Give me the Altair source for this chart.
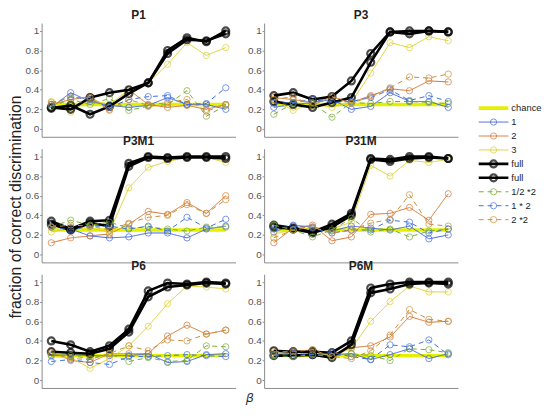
import pandas as pd
import altair as alt

# ---------- data ----------

beta_steps = list(range(1, 11))
chance_level = [0.25] * 10

series_keys = ["1", "2", "3", "full_a", "full_b", "1/2 *2", "1 * 2", "2 *2"]
thin_keys = ["1", "2", "3"]
full_keys = ["full_a", "full_b"]
dashed_keys = ["1/2 *2", "1 * 2", "2 *2"]

legend_keys = ["chance"] + series_keys
legend_labels = ["chance", "1", "2", "3", "full", "full", "1/2 *2", "1 * 2", "2 *2"]

P1 = {
    "1": [0.22, 0.37, 0.28, 0.24, 0.22, 0.24, 0.32, 0.25, 0.25, 0.20],
    "2": [0.25, 0.30, 0.33, 0.20, 0.40, 0.25, 0.22, 0.24, 0.20, 0.25],
    "3": [0.28, 0.17, 0.30, 0.25, 0.40, 0.47, 0.66, 0.88, 0.75, 0.83],
    "full_a": [0.22, 0.20, 0.32, 0.37, 0.40, 0.47, 0.80, 0.93, 0.89, 1.00],
    "full_b": [0.21, 0.24, 0.15, 0.23, 0.36, 0.47, 0.77, 0.91, 0.90, 0.97],
    "1/2 *2": [0.23, 0.30, 0.25, 0.31, 0.19, 0.23, 0.25, 0.39, 0.13, 0.24],
    "1 * 2": [0.25, 0.33, 0.30, 0.22, 0.30, 0.33, 0.34, 0.25, 0.26, 0.42],
    "2 *2": [0.27, 0.32, 0.32, 0.19, 0.30, 0.24, 0.27, 0.30, 0.18, 0.25],
}
P3 = {
    "1": [0.22, 0.25, 0.27, 0.30, 0.20, 0.23, 0.37, 0.28, 0.28, 0.22],
    "2": [0.32, 0.30, 0.27, 0.33, 0.27, 0.34, 0.41, 0.39, 0.49, 0.48],
    "3": [0.30, 0.19, 0.26, 0.22, 0.27, 0.57, 0.88, 0.83, 0.94, 0.90],
    "full_a": [0.34, 0.37, 0.30, 0.33, 0.49, 0.77, 0.99, 1.00, 1.00, 0.99],
    "full_b": [0.28, 0.25, 0.22, 0.27, 0.32, 0.68, 0.99, 0.97, 1.00, 0.99],
    "1/2 *2": [0.15, 0.26, 0.26, 0.12, 0.27, 0.26, 0.28, 0.28, 0.27, 0.26],
    "1 * 2": [0.26, 0.27, 0.30, 0.27, 0.28, 0.32, 0.40, 0.29, 0.34, 0.28],
    "2 *2": [0.30, 0.33, 0.24, 0.33, 0.26, 0.33, 0.42, 0.53, 0.52, 0.56],
}
P3M1 = {
    "1": [0.30, 0.26, 0.19, 0.17, 0.18, 0.22, 0.22, 0.17, 0.26, 0.29],
    "2": [0.12, 0.17, 0.19, 0.21, 0.31, 0.44, 0.41, 0.53, 0.42, 0.60],
    "3": [0.23, 0.27, 0.27, 0.23, 0.68, 0.89, 0.95, 0.99, 0.99, 0.94],
    "full_a": [0.34, 0.26, 0.34, 0.35, 0.93, 1.00, 0.99, 1.00, 1.00, 1.00],
    "full_b": [0.31, 0.25, 0.32, 0.29, 0.90, 0.99, 0.98, 0.99, 0.99, 0.98],
    "1/2 *2": [0.28, 0.35, 0.30, 0.33, 0.27, 0.28, 0.26, 0.24, 0.28, 0.28],
    "1 * 2": [0.28, 0.25, 0.29, 0.29, 0.26, 0.29, 0.24, 0.38, 0.27, 0.36],
    "2 *2": [0.28, 0.30, 0.29, 0.25, 0.32, 0.38, 0.40, 0.51, 0.42, 0.56],
}
P31M = {
    "1": [0.23, 0.30, 0.28, 0.24, 0.29, 0.27, 0.25, 0.29, 0.16, 0.20],
    "2": [0.12, 0.27, 0.30, 0.14, 0.18, 0.41, 0.42, 0.48, 0.35, 0.62],
    "3": [0.21, 0.25, 0.27, 0.26, 0.33, 0.91, 0.80, 0.96, 0.94, 0.97],
    "full_a": [0.30, 0.27, 0.23, 0.31, 0.42, 0.98, 0.97, 1.00, 1.00, 0.98],
    "full_b": [0.28, 0.26, 0.22, 0.28, 0.40, 0.97, 0.95, 0.98, 0.99, 0.98],
    "1/2 *2": [0.30, 0.25, 0.18, 0.25, 0.37, 0.23, 0.26, 0.18, 0.24, 0.26],
    "1 * 2": [0.26, 0.29, 0.27, 0.22, 0.25, 0.25, 0.35, 0.33, 0.22, 0.26],
    "2 *2": [0.17, 0.25, 0.28, 0.22, 0.25, 0.32, 0.36, 0.61, 0.31, 0.29],
}
P6 = {
    "1": [0.25, 0.26, 0.25, 0.25, 0.25, 0.27, 0.18, 0.19, 0.26, 0.27],
    "2": [0.29, 0.20, 0.18, 0.27, 0.27, 0.27, 0.45, 0.56, 0.47, 0.51],
    "3": [0.24, 0.23, 0.12, 0.22, 0.35, 0.55, 0.78, 0.96, 0.95, 0.93],
    "full_a": [0.40, 0.36, 0.29, 0.35, 0.52, 0.91, 0.99, 0.98, 1.00, 0.99],
    "full_b": [0.29, 0.28, 0.27, 0.32, 0.49, 0.85, 0.95, 0.97, 0.99, 0.98],
    "1/2 *2": [0.26, 0.25, 0.22, 0.27, 0.19, 0.23, 0.19, 0.20, 0.35, 0.34],
    "1 * 2": [0.19, 0.21, 0.18, 0.16, 0.24, 0.24, 0.25, 0.26, 0.25, 0.24],
    "2 *2": [0.28, 0.22, 0.21, 0.27, 0.35, 0.30, 0.41, 0.40, 0.47, 0.51],
}
P6M = {
    "1": [0.27, 0.27, 0.25, 0.26, 0.27, 0.21, 0.26, 0.32, 0.22, 0.27],
    "2": [0.30, 0.29, 0.31, 0.26, 0.33, 0.35, 0.44, 0.65, 0.59, 0.60],
    "3": [0.27, 0.28, 0.30, 0.25, 0.32, 0.60, 0.80, 0.96, 0.90, 0.90],
    "full_a": [0.30, 0.29, 0.29, 0.28, 0.40, 0.94, 0.98, 1.00, 1.00, 1.00],
    "full_b": [0.25, 0.25, 0.26, 0.23, 0.36, 0.89, 0.93, 0.98, 0.99, 0.98],
    "1/2 *2": [0.25, 0.24, 0.26, 0.24, 0.27, 0.25, 0.20, 0.32, 0.31, 0.28],
    "1 * 2": [0.26, 0.27, 0.26, 0.28, 0.24, 0.21, 0.36, 0.34, 0.41, 0.26],
    "2 *2": [0.29, 0.29, 0.31, 0.24, 0.22, 0.30, 0.46, 0.72, 0.62, 0.60],
}

# ---------- styles ----------

FONT = "Liberation Sans"
AXIS_GREY = "#8a8a8a"
CHANCE_COLOR = "#E4F000"

# one shared scale for panels and legend (concat shares color/dash scales)
key_colors = [CHANCE_COLOR, "#3F61DA", "#D57330", "#DCCF2C", "#000000", "#000000",
              "#77AC30", "#3C6FE0", "#C98E3A"]
key_dash = [[1, 0], [1, 0], [1, 0], [1, 0], [1, 0], [1, 0], [5, 4], [5, 4], [5, 4]]
color_scale = alt.Scale(domain=legend_keys, range=key_colors)
dash_scale = alt.Scale(domain=legend_keys, range=key_dash)

PANEL_W = 196
PANEL_H = 115
Y_DOMAIN = [-0.08, 1.08]


def long_frame(values, keys):
    rows = []
    for key in keys:
        for b, v in zip(beta_steps, values[key]):
            rows.append({"series": key, "beta": b, "value": v})
    return pd.DataFrame(rows)


def panel_chart(title, values, x_title=None):
    x_axis = alt.Axis(ticks=False, labels=False, grid=False, domainColor=AXIS_GREY,
                      title=x_title, titleFont="DejaVu Sans", titleFontStyle="italic",
                      titleFontWeight="normal", titleFontSize=13, titleColor="#333333",
                      titleX=PANEL_W + 14, titleY=10, titleBaseline="middle", titleAlign="center")
    y_axis = alt.Axis(values=[0, 0.2, 0.4, 0.6, 0.8, 1], format="~g", grid=False,
                      domainColor=AXIS_GREY, tickColor=AXIS_GREY, tickSize=2,
                      labelFont=FONT, labelFontSize=10, labelColor="#555555", labelPadding=1,
                      labelOverlap=False, title=None)
    x = alt.X("beta:Q", scale=alt.Scale(domain=[0.5, 10.5], nice=False, zero=False), axis=x_axis)
    y = alt.Y("value:Q", scale=alt.Scale(domain=Y_DOMAIN, nice=False, zero=False), axis=y_axis)
    color = alt.Color("series:N", scale=color_scale, legend=None)
    dash = alt.StrokeDash("series:N", scale=dash_scale, legend=None)

    chance = alt.Chart(pd.DataFrame({"beta": beta_steps, "value": chance_level})).mark_line(
        color=CHANCE_COLOR, strokeWidth=3.5).encode(x=x, y=y)

    thin = alt.Chart(long_frame(values, thin_keys))
    thin_lines = thin.mark_line(strokeWidth=1).encode(x=x, y=y, color=color, strokeDash=dash)
    thin_pts = thin.mark_point(shape="circle", filled=False, size=40, strokeWidth=1).encode(
        x=x, y=y, color=color)

    full = alt.Chart(long_frame(values, full_keys))
    full_lines = full.mark_line(strokeWidth=2.6).encode(x=x, y=y, color=color, detail="series:N")
    full_pts = full.mark_point(shape="circle", filled=False, size=50, strokeWidth=2.2).encode(
        x=x, y=y, color=color)

    dashed = alt.Chart(long_frame(values, dashed_keys))
    dashed_lines = dashed.mark_line(strokeWidth=1).encode(x=x, y=y, color=color, strokeDash=dash)
    dashed_pts = dashed.mark_point(shape="circle", filled=False, size=40, strokeWidth=1).encode(
        x=x, y=y, color=color)

    return alt.layer(chance, thin_lines, thin_pts, full_lines, full_pts, dashed_lines, dashed_pts).properties(
        width=PANEL_W, height=PANEL_H,
        title=alt.TitleParams(title, font=FONT, fontSize=12, fontWeight="bold", color="#222222",
                              anchor="middle", frame="group", offset=1),
    )


panels = [
    panel_chart("P1", P1),
    panel_chart("P3", P3),
    panel_chart("P3M1", P3M1),
    panel_chart("P31M", P31M),
    panel_chart("P6", P6, x_title="β"),
    panel_chart("P6M", P6M),
]

grid = alt.concat(
    *panels, columns=2, spacing={"row": 12, "column": 29}, bounds="flush",
    title=alt.TitleParams("fraction of correct discrimination", orient="left", anchor="middle",
                          font=FONT, fontSize=16, fontWeight="normal", color="#222222", offset=1),
)

# ---------- legend ----------

LEG_H = 240
LEG_STEP = 14.1
LEG_FIRST = 86
leg_d0 = -LEG_FIRST / LEG_STEP
leg_domain = [leg_d0, leg_d0 + LEG_H / LEG_STEP]

legend_df = pd.DataFrame({"series": legend_keys, "label": legend_labels,
                          "idx": list(range(len(legend_keys)))})
leg_color = alt.Color("series:N", scale=color_scale, legend=None)
leg_dash = alt.StrokeDash("series:N", scale=dash_scale, legend=None)
leg_xs = alt.Scale(domain=[0, 1])
leg_y = alt.Y("idx:Q", scale=alt.Scale(domain=leg_domain, reverse=True, nice=False, zero=False), axis=None)

leg_base = alt.Chart(legend_df)


def legend_rows(keys, line_width, point_size, point_width):
    rows = leg_base.transform_filter(alt.FieldOneOfPredicate(field="series", oneOf=keys))
    line = rows.mark_rule(strokeWidth=line_width).encode(
        x=alt.XDatum(0, scale=leg_xs, axis=None), x2=alt.X2Datum(1), y=leg_y,
        color=leg_color, strokeDash=leg_dash)
    if point_size == 0:
        return [line]
    pts = rows.mark_point(shape="circle", filled=False, size=point_size, strokeWidth=point_width).encode(
        x=alt.XDatum(0.5, scale=leg_xs, axis=None), y=leg_y, color=leg_color)
    return [line, pts]


leg_text = leg_base.mark_text(align="left", baseline="middle", dx=3, font=FONT, fontSize=9.5,
                              color="#222222").encode(
    x=alt.XDatum(1, scale=leg_xs, axis=None), y=leg_y, text="label:N")

legend = alt.layer(
    *legend_rows(["chance"], 4, 0, 0),
    *legend_rows(thin_keys, 1, 40, 1),
    *legend_rows(full_keys, 2.6, 50, 2.2),
    *legend_rows(dashed_keys, 1, 40, 1),
    leg_text,
).properties(width=30, height=LEG_H)

chart = alt.hconcat(grid, legend, spacing=19).properties(
    padding={"left": 0, "top": -2, "right": 0, "bottom": 0}
).configure_view(stroke=None)

chart.save("out.html", embed_options={"renderer": "svg", "actions": False})
